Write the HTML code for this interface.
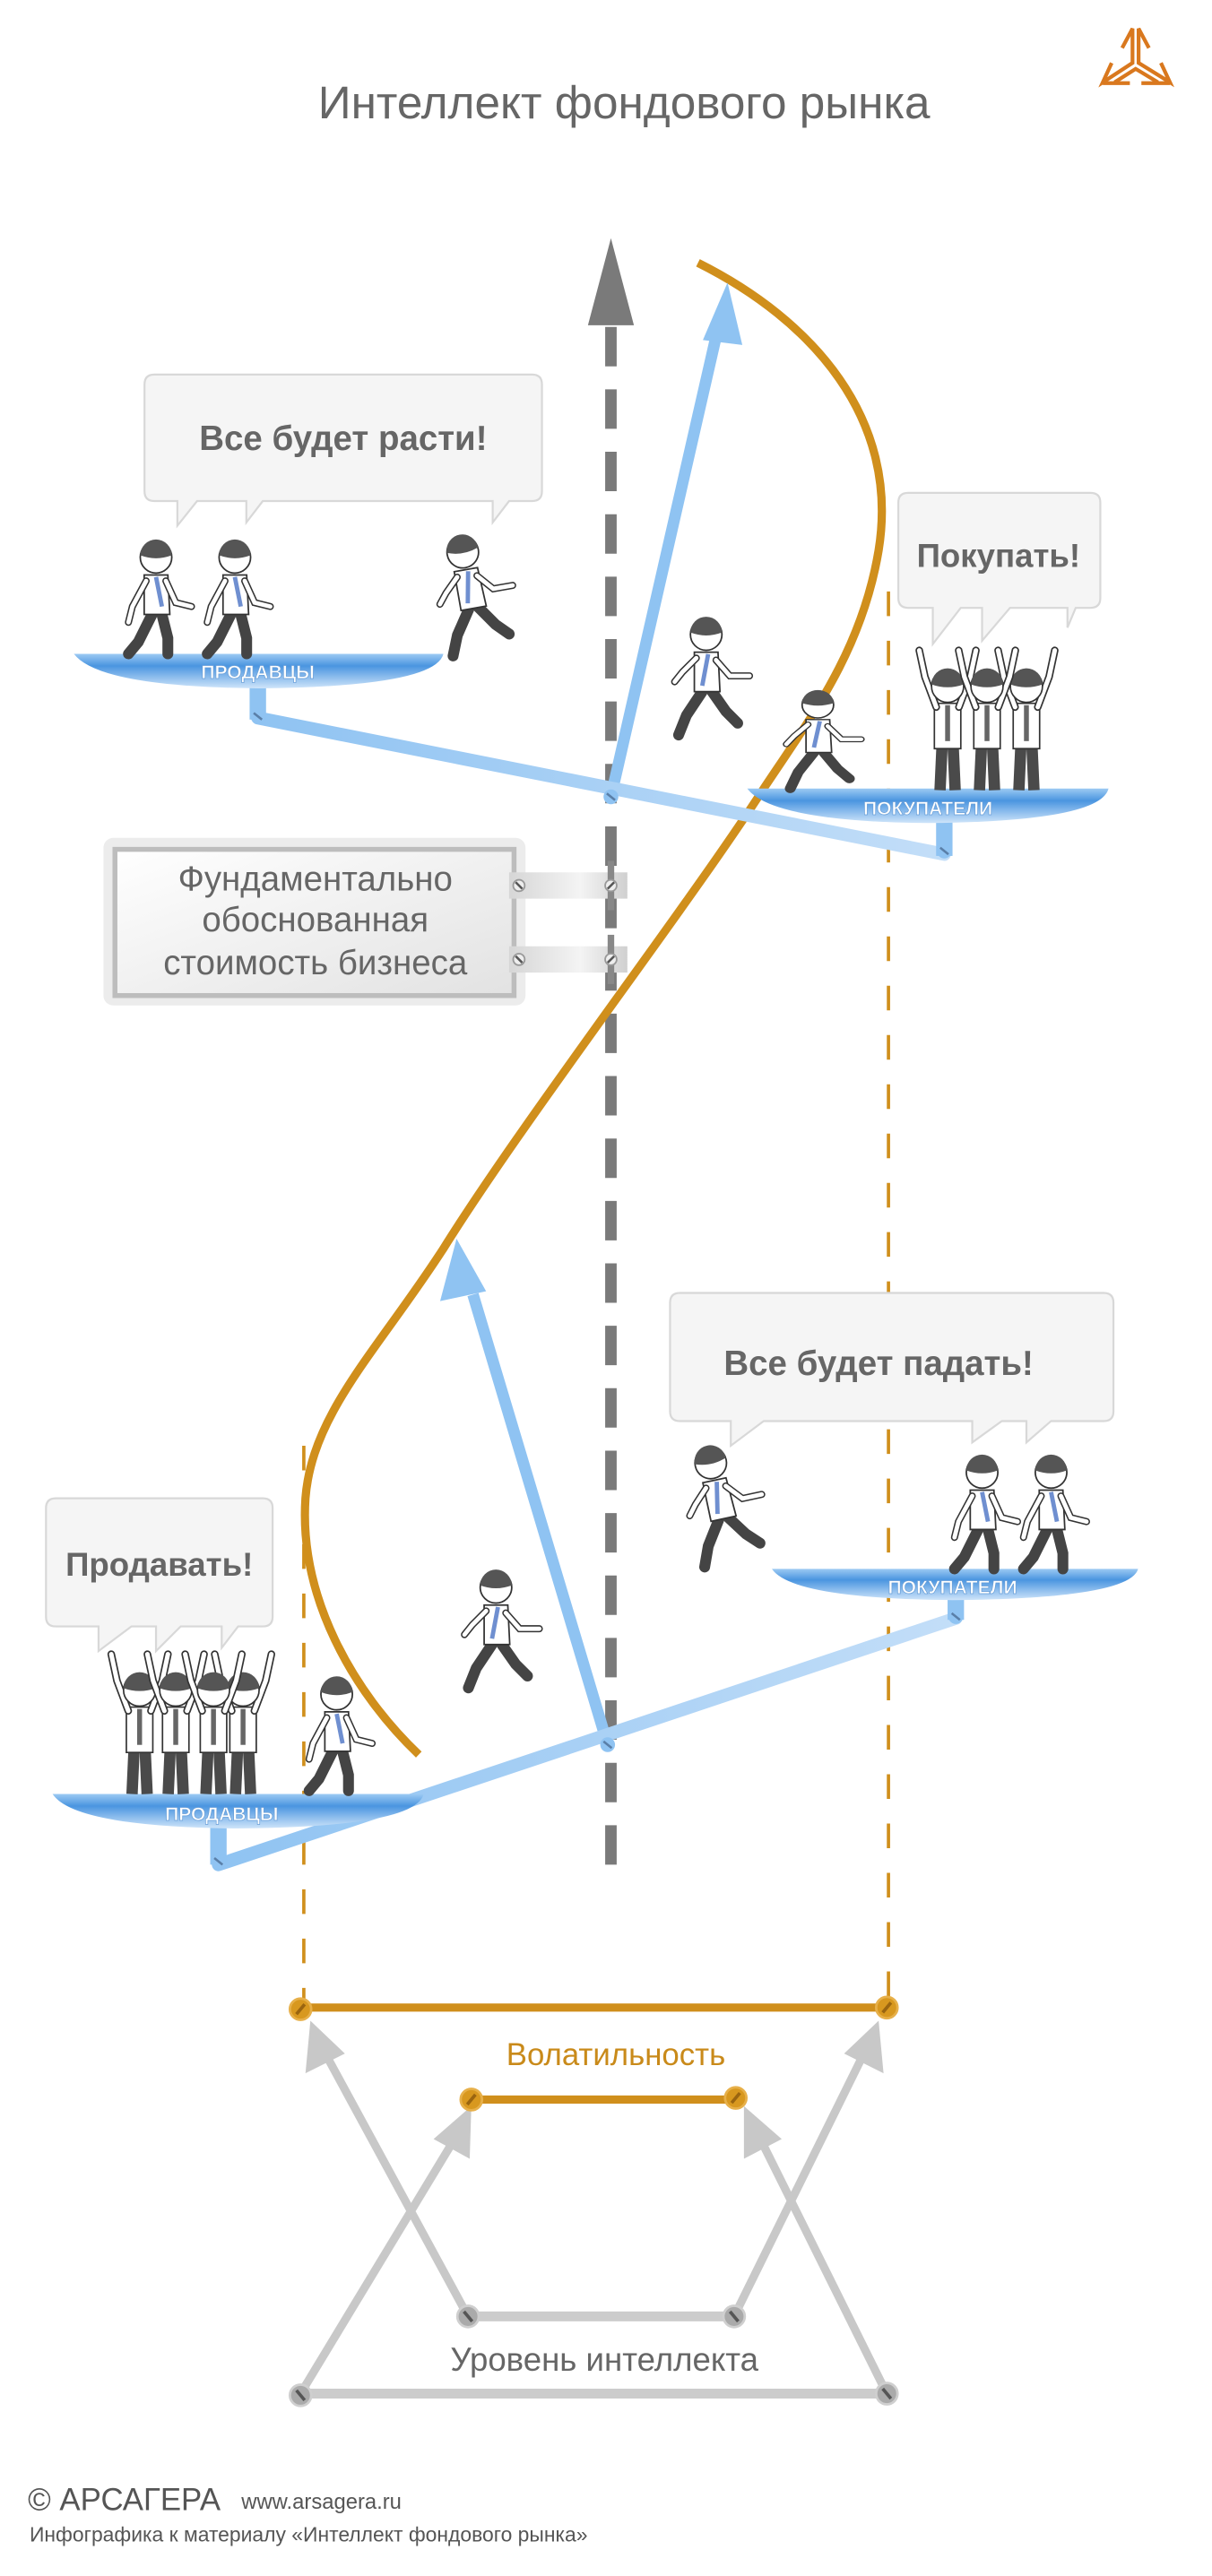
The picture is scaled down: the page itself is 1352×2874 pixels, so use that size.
<!DOCTYPE html>
<html><head><meta charset="utf-8"><style>
html,body{margin:0;padding:0;background:#fff;}
svg{display:block;}
text{font-family:"Liberation Sans","DejaVu Sans",sans-serif;}
</style></head><body>
<svg width="1352" height="2874" viewBox="0 0 738 1568" preserveAspectRatio="none" xmlns="http://www.w3.org/2000/svg">
<defs>
<linearGradient id="plat" x1="0" y1="0" x2="0" y2="1">
<stop offset="0" stop-color="#9ccaf3"/><stop offset="0.35" stop-color="#4a95e0"/><stop offset="1" stop-color="#cfe5fa"/></linearGradient>
<linearGradient id="bar" x1="0" y1="0" x2="1" y2="0">
<stop offset="0" stop-color="#8fc3f2"/><stop offset="1" stop-color="#c3def8"/></linearGradient>
<linearGradient id="sign" x1="0" y1="0" x2="1" y2="1">
<stop offset="0" stop-color="#ffffff"/><stop offset="1" stop-color="#e2e2e2"/></linearGradient>
<linearGradient id="conn" x1="0" y1="0" x2="1" y2="0">
<stop offset="0" stop-color="#d6d6d6"/><stop offset="0.6" stop-color="#f4f4f4"/><stop offset="1" stop-color="#d0d0d0"/></linearGradient>
<g id="walk">
<path d="M-2,-20 L-9,-6 L-14,0" stroke="#444" stroke-width="5.5" fill="none" stroke-linecap="round"/>
<path d="M3,-20 L6,-8 L6,0" stroke="#444" stroke-width="5.5" fill="none" stroke-linecap="round"/>
<path d="M-6,-40 L6,-40 L7,-20 L-6,-20 Z" fill="#fff" stroke="#333" stroke-width="0.8"/>
<path d="M-5,-37 L-12,-24 L-14,-16" stroke="#333" stroke-width="3.6" fill="none" stroke-linecap="round"/>
<path d="M-5,-37 L-12,-24 L-14,-16" stroke="#fff" stroke-width="2.2" fill="none" stroke-linecap="round"/>
<path d="M5,-37 L10,-26 L18,-24" stroke="#333" stroke-width="3.6" fill="none" stroke-linecap="round"/>
<path d="M5,-37 L10,-26 L18,-24" stroke="#fff" stroke-width="2.2" fill="none" stroke-linecap="round"/>
<path d="M0,-39 L3,-24" stroke="#6f8fd0" stroke-width="2.2"/>
<circle cx="0" cy="-49" r="8" fill="#fff" stroke="#333" stroke-width="0.8"/>
<path d="M-8,-50 A8,8 0 0 1 8,-50 Q0,-47 -8,-50 Z" fill="#555"/>
</g>
<g id="cheer">
<path d="M-3,-22 L-4,0" stroke="#4a4a4a" stroke-width="6" fill="none"/>
<path d="M3,-22 L4,0" stroke="#4a4a4a" stroke-width="6" fill="none"/>
<path d="M-7,-46 L7,-46 L7,-22 L-7,-22 Z" fill="#fff" stroke="#333" stroke-width="0.8"/>
<path d="M-6,-44 L-12,-60 L-15,-74" stroke="#333" stroke-width="4" fill="none" stroke-linecap="round"/>
<path d="M-6,-44 L-12,-60 L-15,-74" stroke="#fff" stroke-width="2.4" fill="none" stroke-linecap="round"/>
<path d="M6,-44 L12,-60 L15,-74" stroke="#333" stroke-width="4" fill="none" stroke-linecap="round"/>
<path d="M6,-44 L12,-60 L15,-74" stroke="#fff" stroke-width="2.4" fill="none" stroke-linecap="round"/>
<path d="M0,-45 L0,-26" stroke="#666" stroke-width="2.6"/>
<circle cx="0" cy="-55" r="8.5" fill="#fff" stroke="#333" stroke-width="0.8"/>
<path d="M-8.5,-56 A8.5,8.5 0 0 1 8.5,-56 Q0,-53 -8.5,-56 Z" fill="#555"/>
</g>
<g id="jump">
<path d="M-2,-20 L-10,-8 L-14,2" stroke="#444" stroke-width="5.5" fill="none" stroke-linecap="round"/>
<path d="M3,-20 L10,-10 L16,-4" stroke="#444" stroke-width="5.5" fill="none" stroke-linecap="round"/>
<path d="M-6,-40 L6,-40 L7,-20 L-6,-20 Z" fill="#fff" stroke="#333" stroke-width="0.8"/>
<path d="M-5,-37 L-12,-30 L-16,-25" stroke="#333" stroke-width="3.6" fill="none" stroke-linecap="round"/>
<path d="M-5,-37 L-12,-30 L-16,-25" stroke="#fff" stroke-width="2.2" fill="none" stroke-linecap="round"/>
<path d="M5,-36 L12,-28 L22,-28" stroke="#333" stroke-width="3.6" fill="none" stroke-linecap="round"/>
<path d="M5,-36 L12,-28 L22,-28" stroke="#fff" stroke-width="2.2" fill="none" stroke-linecap="round"/>
<path d="M1,-39 L-2,-23" stroke="#6f8fd0" stroke-width="2.2"/>
<circle cx="0" cy="-49" r="8" fill="#fff" stroke="#333" stroke-width="0.8"/>
<path d="M-8,-50 A8,8 0 0 1 8,-50 Q0,-47 -8,-50 Z" fill="#555"/>
</g>
<g id="screwB"><circle r="4.5" fill="#8fc3f2"/><line x1="-2.5" y1="-2" x2="2.5" y2="2" stroke="#5a7fa8" stroke-width="1.4"/></g>
<g id="screwO"><circle r="6.5" fill="#d8981f" stroke="#e7b04a" stroke-width="1.5"/><line x1="-2.5" y1="3" x2="2.5" y2="-3" stroke="#9a6510" stroke-width="2"/></g>
<g id="screwG"><circle r="6.5" fill="#aaa" stroke="#cfcfcf" stroke-width="1.5"/><line x1="-2.5" y1="-3" x2="2.5" y2="3" stroke="#555" stroke-width="2"/></g>
</defs>

<!-- title -->
<text x="380" y="72" font-size="28" fill="#666" text-anchor="middle">Интеллект фондового рынка</text>
<!-- logo -->
<g stroke="#d9781e" stroke-width="2.3" fill="none" stroke-linejoin="miter" stroke-linecap="butt">
<path d="M683.3,29.2 L689.6,17.4 L689.6,38.3 L671.5,50.1 L676.9,38.3"/>
<path d="M699.6,29.2 L693.3,17.4 L693.3,38.3 L712.4,50.1 L706.9,38.3"/>
<path d="M678.7,50.1 L691.5,41.9 L705.1,50.1"/>
<path d="M671.5,50.6 L688,50.6 M695,50.6 L712.4,50.6"/>
</g>

<!-- orange dashed verticals -->
<line x1="541" y1="360" x2="541" y2="1222" stroke="#d08f1c" stroke-width="2" stroke-dasharray="15,15"/>
<line x1="185" y1="880" x2="185" y2="1222" stroke="#d08f1c" stroke-width="2" stroke-dasharray="15,15"/>

<!-- gray dashed arrow -->
<line x1="372" y1="1135" x2="372" y2="198" stroke="#7a7a7a" stroke-width="7" stroke-dasharray="24,14"/>
<polygon points="372,145 358,198 386,198" fill="#7a7a7a"/>

<!-- orange curve -->
<path d="M425,160 C495,195 548,255 535,335 C525,395 495,435 465,480 C420,550 320,680 270,760 C230,822 190,860 186,912 C182,972 215,1030 255,1068" stroke="#d08f1c" stroke-width="5" fill="none"/>

<!-- blue arrows -->
<line x1="372" y1="485" x2="436" y2="205" stroke="#8fc3f2" stroke-width="7"/>
<polygon points="443,172 428,207 452,210" fill="#8fc3f2"/>
<line x1="370" y1="1062" x2="288" y2="788" stroke="#8fc3f2" stroke-width="7"/>
<polygon points="278,754 268,792 296,786" fill="#8fc3f2"/>

<!-- sign -->
<rect x="63" y="510" width="257" height="102" rx="6" fill="#ececec"/>
<rect x="70" y="517" width="243" height="89" fill="url(#sign)" stroke="#bdbdbd" stroke-width="3"/>
<text font-size="21" fill="#666" text-anchor="middle"><tspan x="192" y="542">Фундаментально</tspan><tspan x="192" y="567">обоснованная</tspan><tspan x="192" y="593">стоимость бизнеса</tspan></text>
<rect x="310" y="531" width="72" height="16" fill="url(#conn)"/>
<rect x="310" y="576" width="72" height="16" fill="url(#conn)"/>
<rect x="370" y="524" width="4" height="30" fill="#888"/>
<rect x="370" y="569" width="4" height="30" fill="#888"/>
<g transform="translate(316,539)"><circle r="3.5" fill="#eee" stroke="#999"/><line x1="-2" y1="-2" x2="2" y2="2" stroke="#555" stroke-width="1.4"/></g>
<g transform="translate(316,584)"><circle r="3.5" fill="#eee" stroke="#999"/><line x1="-2" y1="-2" x2="2" y2="2" stroke="#555" stroke-width="1.4"/></g>
<g transform="translate(372,539)"><circle r="3.5" fill="#eee" stroke="#999"/><line x1="-2" y1="2" x2="2" y2="-2" stroke="#555" stroke-width="1.4"/></g>
<g transform="translate(372,584)"><circle r="3.5" fill="#eee" stroke="#999"/><line x1="-2" y1="2" x2="2" y2="-2" stroke="#555" stroke-width="1.4"/></g>

<!-- top seesaw -->
<line x1="157" y1="437" x2="575" y2="520" stroke="url(#bar)" stroke-width="8" stroke-linecap="round"/>
<rect x="152" y="412" width="10" height="26" fill="#8fc3f2"/>
<rect x="570" y="495" width="10" height="26" fill="#8fc3f2"/>
<use href="#screwB" x="157" y="436"/><use href="#screwB" x="575" y="518"/><use href="#screwB" x="372" y="485"/>
<path d="M45,398 L270,398 Q265,418 157,419 Q60,418 45,398 Z" fill="url(#plat)"/>
<text x="157" y="413" font-size="11.5" font-weight="bold" fill="#fff" text-anchor="middle" stroke="#6a9fd8" stroke-width="0.4">ПРОДАВЦЫ</text>
<path d="M455,480 L675,480 Q670,500 565,501 Q470,500 455,480 Z" fill="url(#plat)"/>
<text x="565" y="496" font-size="11.5" font-weight="bold" fill="#fff" text-anchor="middle" stroke="#6a9fd8" stroke-width="0.4">ПОКУПАТЕЛИ</text>

<!-- bottom seesaw -->
<line x1="133" y1="1135" x2="582" y2="985" stroke="url(#bar)" stroke-width="8" stroke-linecap="round"/>
<rect x="128" y="1108" width="10" height="27" fill="#8fc3f2"/>
<rect x="577" y="968" width="10" height="18" fill="#8fc3f2"/>
<use href="#screwB" x="133" y="1133"/><use href="#screwB" x="582" y="984"/><use href="#screwB" x="370" y="1062"/>
<path d="M32,1092 L258,1092 Q253,1112 145,1113 Q45,1112 32,1092 Z" fill="url(#plat)"/>
<text x="135" y="1108" font-size="11.5" font-weight="bold" fill="#fff" text-anchor="middle" stroke="#6a9fd8" stroke-width="0.4">ПРОДАВЦЫ</text>
<path d="M470,955 L693,955 Q688,973 580,974 Q482,973 470,955 Z" fill="url(#plat)"/>
<text x="580" y="970" font-size="11.5" font-weight="bold" fill="#fff" text-anchor="middle" stroke="#6a9fd8" stroke-width="0.4">ПОКУПАТЕЛИ</text>

<!-- speech bubbles -->
<g fill="#f5f5f5" stroke="#d8d8d8" stroke-width="1.2">
<path d="M94,228 H324 Q330,228 330,234 V299 Q330,305 324,305 H310 L300,318 L300,305 H160 L150,318 L150,305 H120 L108,320 L108,305 H94 Q88,305 88,299 V234 Q88,228 94,228 Z"/>
<path d="M553,300 H664 Q670,300 670,306 V364 Q670,370 664,370 H655 L650,382 L650,370 H615 L598,390 L598,370 H585 L568,392 L568,370 H553 Q547,370 547,364 V306 Q547,300 553,300 Z"/>
<path d="M414,787 H672 Q678,787 678,793 V859 Q678,865 672,865 H640 L625,878 L625,865 H610 L592,878 L592,865 H465 L445,880 L445,865 H414 Q408,865 408,859 V793 Q408,787 414,787 Z"/>
<path d="M34,912 H160 Q166,912 166,918 V984 Q166,990 160,990 H145 L135,1003 L135,990 H110 L95,1005 L95,990 H80 L60,1005 L60,990 H34 Q28,990 28,984 V918 Q28,912 34,912 Z"/>
</g>
<g font-weight="bold" fill="#666" text-anchor="middle">
<text x="209" y="274" font-size="21">Все будет расти!</text>
<text x="608" y="345" font-size="20">Покупать!</text>
<text x="535" y="837" font-size="21">Все будет падать!</text>
<text x="97" y="959" font-size="20">Продавать!</text>
</g>

<!-- people top -->
<use href="#walk" transform="translate(95,398) scale(1.2)"/>
<use href="#walk" transform="translate(143,398) scale(1.2)"/>
<use href="#jump" transform="translate(292,394) rotate(-10) scale(1.2)"/>
<use href="#jump" transform="translate(430,445) scale(1.2)"/>
<use href="#jump" transform="translate(498,478) scale(1.2,1.0)"/>
<use href="#cheer" transform="translate(577,481) scale(1.15)"/>
<use href="#cheer" transform="translate(625,481) scale(1.15)"/>
<use href="#cheer" transform="translate(601,481) scale(1.15)"/>

<!-- people bottom -->
<use href="#cheer" transform="translate(85,1092) scale(1.15)"/>
<use href="#cheer" transform="translate(148,1092) scale(1.15)"/>
<use href="#cheer" transform="translate(107,1092) scale(1.15)"/>
<use href="#cheer" transform="translate(130,1092) scale(1.15)"/>
<use href="#walk" transform="translate(205,1090) scale(1.2)"/>
<use href="#jump" transform="translate(302,1025) scale(1.2)"/>
<use href="#jump" transform="translate(445,948) rotate(-12) scale(1.2)"/>
<use href="#walk" transform="translate(598,955) scale(1.2)"/>
<use href="#walk" transform="translate(640,955) scale(1.2)"/>

<!-- bottom diagram -->
<g stroke="#c8c8c8" stroke-width="5">
<line x1="285" y1="1410" x2="197" y2="1248"/>
<line x1="447" y1="1410" x2="527" y2="1248"/>
<line x1="183" y1="1457" x2="278" y2="1300"/>
<line x1="540" y1="1457" x2="462" y2="1300"/>
</g>
<g fill="#c8c8c8">
<polygon points="189,1230 186,1262 210,1250"/>
<polygon points="535,1230 514,1250 538,1262"/>
<polygon points="287,1282 264,1302 286,1314"/>
<polygon points="453,1282 453,1314 476,1302"/>
</g>
<line x1="183" y1="1222" x2="540" y2="1222" stroke="#d08f1c" stroke-width="5"/>
<line x1="287" y1="1278" x2="448" y2="1278" stroke="#d08f1c" stroke-width="5"/>
<use href="#screwO" x="183" y="1223"/><use href="#screwO" x="540" y="1222"/>
<use href="#screwO" x="287" y="1278"/><use href="#screwO" x="448" y="1277"/>
<text x="375" y="1257" font-size="19" fill="#c98a1a" text-anchor="middle">Волатильность</text>
<line x1="285" y1="1410" x2="447" y2="1410" stroke="#cccccc" stroke-width="6"/>
<line x1="183" y1="1457" x2="540" y2="1457" stroke="#cccccc" stroke-width="6"/>
<use href="#screwG" x="285" y="1410"/><use href="#screwG" x="447" y="1410"/>
<use href="#screwG" x="183" y="1458"/><use href="#screwG" x="540" y="1457"/>
<text x="368" y="1443" font-size="20" fill="#666" text-anchor="middle">Уровень интеллекта</text>

<!-- footer -->
<text x="17" y="1528" font-size="19" fill="#555">© АРСАГЕРА</text>
<text x="147" y="1527" font-size="13" fill="#555">www.arsagera.ru</text>
<text x="18" y="1547" font-size="12.5" fill="#555">Инфографика к материалу «Интеллект фондового рынка»</text>
</svg>
</body></html>
